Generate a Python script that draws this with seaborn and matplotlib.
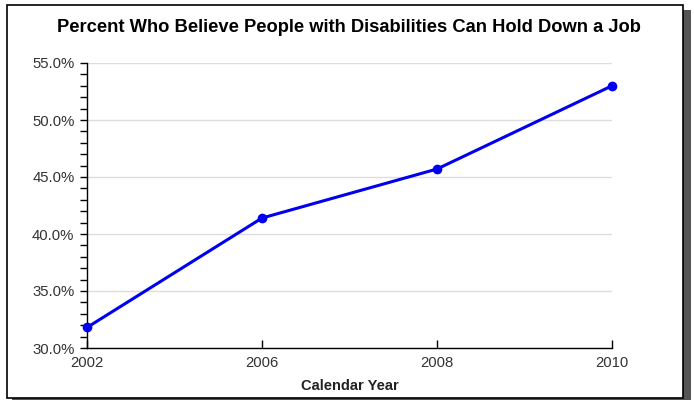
import matplotlib
matplotlib.use("Agg")
import matplotlib.pyplot as plt
from matplotlib.patches import Rectangle
from matplotlib.ticker import MultipleLocator, FuncFormatter
import seaborn as sns
import pandas as pd

years = ["2002", "2006", "2008", "2010"]
percent = [31.8, 41.4, 45.7, 53.0]

sns.set_theme(style="white")
plt.rcParams["font.family"] = ["Liberation Sans", "DejaVu Sans"]

df = pd.DataFrame({"year": years, "percent": percent})

W, H = 694, 400
fig = plt.figure(figsize=(W / 100, H / 100), dpi=100)
fig.patch.set_facecolor("white")


def px_rect(x0, y0, x1, y1, **kw):
    """Rectangle given in pixel coords measured from the top-left corner."""
    return Rectangle((x0 / W, 1 - y1 / H), (x1 - x0) / W, (y1 - y0) / H,
                     transform=fig.transFigure, **kw)


# frame with drop shadow
fig.patches.append(px_rect(12, 10, 691, 402, facecolor="#555555",
                           edgecolor="none", zorder=0))
fig.patches.append(px_rect(7, 5, 683, 398, facecolor="white",
                           edgecolor="black", linewidth=1.2, zorder=1))

left, right = 87, 612
top, bottom = 63, 348
ax = fig.add_axes([left / W, 1 - bottom / H, (right - left) / W, (bottom - top) / H])
ax.set_facecolor("none")
ax.set_zorder(2)

sns.lineplot(data=df, x="year", y="percent", ax=ax, color="#0000ee",
             linewidth=2.2, marker="o", markersize=7, markeredgewidth=0,
             sort=False, zorder=3, clip_on=False)

ax.set_ylim(30, 55)
ax.set_xlim(0.0, 3.0)
ax.yaxis.set_major_locator(MultipleLocator(5))
ax.yaxis.set_minor_locator(MultipleLocator(1))
ax.yaxis.set_major_formatter(FuncFormatter(lambda v, p: f"{v:.1f}%"))
ax.grid(axis="y", which="major", color="#dddddd", linewidth=1)
ax.set_axisbelow(True)

for s in ("top", "right"):
    ax.spines[s].set_visible(False)
for s in ("left", "bottom"):
    ax.spines[s].set_color("black")
    ax.spines[s].set_linewidth(1)

ax.tick_params(axis="y", which="major", direction="out", length=5, width=1,
               color="black", labelsize=10.7, labelcolor="#333333", pad=4, left=True)
ax.tick_params(axis="y", which="minor", direction="out", length=5, width=1,
               color="black", left=True)
ax.tick_params(axis="x", which="major", direction="in", length=6, width=1,
               color="black", labelsize=10.7, labelcolor="#333333", pad=6, bottom=True)

ax.set_ylabel("")
ax.set_xlabel("Calendar Year", fontsize=10.5, fontweight="bold", color="#222222", labelpad=6)

fig.text(349 / W, 1 - 27 / H, "Percent Who Believe People with Disabilities Can Hold Down a Job",
         ha="center", va="center", fontsize=13.2, fontweight="bold", color="black")

fig.savefig("out.png", dpi=100)
